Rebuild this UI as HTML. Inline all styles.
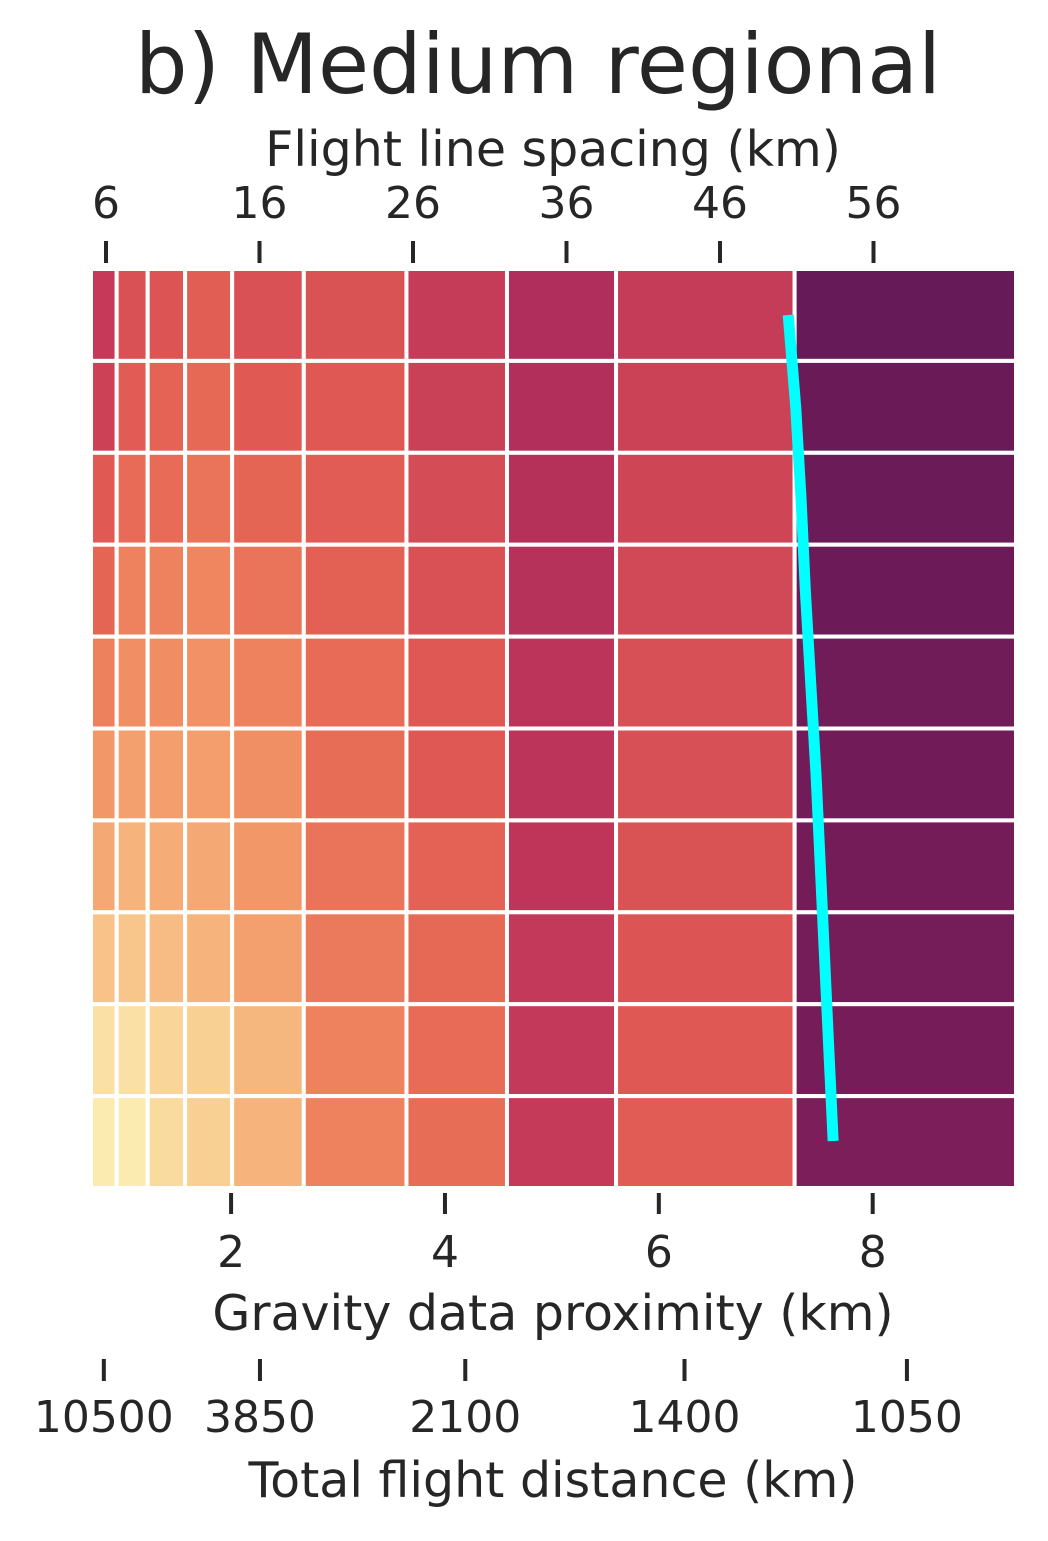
<!DOCTYPE html>
<html><head><meta charset="utf-8"><style>
body{margin:0;background:#fff}
svg text{font-family:"DejaVu Sans","Liberation Sans",sans-serif;fill:#262626}
</style></head><body>
<svg id="chart" width="1048" height="1536" viewBox="0 0 1048 1536" xmlns="http://www.w3.org/2000/svg">
<text x="538" y="93" font-size="83" text-anchor="middle">b) Medium regional</text>
<text x="553" y="166" font-size="49" text-anchor="middle">Flight line spacing (km)</text>
<text x="553" y="1330" font-size="49" text-anchor="middle">Gravity data proximity (km)</text>
<text x="553" y="1497" font-size="49" text-anchor="middle">Total flight distance (km)</text>
<g id="cells"></g><g id="axes"></g>
</svg>
<script>
const colEdges=[0.69,0.93,1.22,1.57,2.01,2.68,3.64,4.58,5.6,7.27,9.34];
const rowCount=10;
const values=[
[7.8,6.4,6.2,5.7,6.4,6.3,7.7,9.0,7.7,11.0],
[7.3,5.8,5.4,5.1,5.9,6.0,7.4,8.9,7.3,10.9],
[5.9,5.0,5.0,4.6,5.3,5.8,6.7,8.7,7.1,10.85],
[5.3,4.0,4.0,3.8,4.6,5.6,6.4,8.6,6.9,10.8],
[4.1,3.4,3.5,3.3,4.0,5.0,6.0,8.3,6.5,10.75],
[3.0,2.7,2.8,2.8,3.4,4.9,6.0,8.3,6.5,10.7],
[2.4,2.0,2.3,2.4,3.0,4.6,5.5,8.2,6.3,10.65],
[1.5,1.4,1.7,2.0,2.7,4.4,5.1,7.9,6.2,10.6],
[0.4,0.4,0.8,1.0,1.9,4.0,5.0,7.9,6.0,10.55],
[0.0,0.0,0.6,1.0,2.0,4.0,4.9,7.8,5.8,10.4]];
const lineX=[7.21,7.28,7.33,7.37,7.42,7.47,7.51,7.55,7.59,7.63];
const bottomTicks=[2,4,6,8];
const topTicks=[6,16,26,36,46,56];
const distTickLabels=["10500","3850","2100","1400","1050"];
const distTickPos=[0.81,2.27,4.19,6.24,8.32];
const cmap=["#fcebb0","#f9d094","#f6b47c","#f29868","#ee825e","#e76b56","#df5853","#cf4756","#c13759","#b02e5b","#8a215b","#661a57"];
function hex(c){return [1,3,5].map(i=>parseInt(c.substr(i,2),16));}
function color(v){v=Math.max(0,Math.min(cmap.length-1,v));const i=Math.min(Math.floor(v),cmap.length-2),t=v-i;const a=hex(cmap[i]),b=hex(cmap[i+1]);return 'rgb('+a.map((x,k)=>Math.round(x+(b[k]-x)*t)).join(',')+')';}
const X0=91,X1=1016,Y0=269,Y1=1188;
function xs(v){return X0+(v-colEdges[0])/(colEdges[colEdges.length-1]-colEdges[0])*(X1-X0);}
function ys(r){return Y0+r/rowCount*(Y1-Y0);}
function xt(v){return 106+(v-6)*15.35;}
const NS="http://www.w3.org/2000/svg";
function mk(t,a,p){const e=document.createElementNS(NS,t);for(const k in a)e.setAttribute(k,a[k]);p.appendChild(e);return e;}
const cells=document.getElementById('cells'),axes=document.getElementById('axes');
for(let r=0;r<rowCount;r++)for(let c=0;c<colEdges.length-1;c++){
 const e=mk('rect',{x:xs(colEdges[c]),y:ys(r),width:xs(colEdges[c+1])-xs(colEdges[c]),height:ys(r+1)-ys(r),fill:color(values[r][c]),stroke:'#fff','stroke-width':4},cells);
 
 
}
const pl=mk('polyline',{points:lineX.map((v,i)=>xs(v)+','+(i==0?315:i==rowCount-1?1141:ys(i+0.5))).join(' '),fill:'none',stroke:'#00ffff','stroke-width':11},cells);


bottomTicks.forEach(v=>{
 const t=mk('line',{x1:xs(v),x2:xs(v),y1:1193,y2:1214,stroke:'#262626','stroke-width':4},axes);
 
 
 const l=mk('text',{x:xs(v),y:1267,'font-size':44,'text-anchor':'middle'},axes);l.textContent=v;
 
 
});
topTicks.forEach(v=>{
 const t=mk('line',{x1:xt(v),x2:xt(v),y1:241,y2:263,stroke:'#262626','stroke-width':4},axes);
 
 
 const l=mk('text',{x:xt(v),y:218,'font-size':44,'text-anchor':'middle'},axes);l.textContent=v;
 
 
});
distTickLabels.forEach((s,i)=>{
 const x=xs(distTickPos[i]);
 const t=mk('line',{x1:x,x2:x,y1:1359,y2:1381,stroke:'#262626','stroke-width':4},axes);
 
 
 const l=mk('text',{x:x,y:1432,'font-size':44,'text-anchor':'middle'},axes);l.textContent=s;
 
 
});
</script>
</body></html>
